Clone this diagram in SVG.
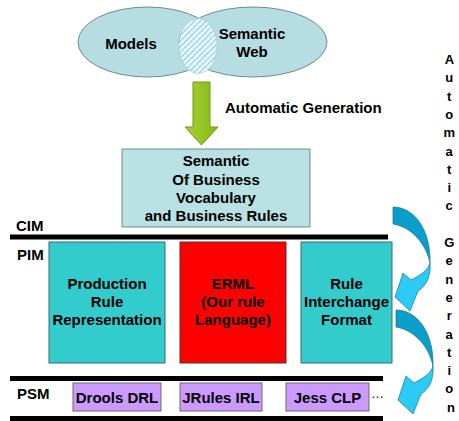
<svg xmlns="http://www.w3.org/2000/svg" width="459" height="421" viewBox="0 0 459 421">
<defs>
<style>
text{font-family:"Liberation Sans",Arial,sans-serif;font-weight:bold;fill:#000}
.t15{font-size:15px}
.c{text-anchor:middle}
.ell{fill:#b6dde1;stroke:#6f8c8e;stroke-width:1}
.teal{fill:#33cccc;stroke:#3d6b6b;stroke-width:1}
.purple{fill:#cc99ff;stroke:#6b6b6b;stroke-width:1}
.bar{stroke:#000;stroke-width:5}
.dark{fill:#0a9fcb;stroke:#1a6f90;stroke-width:0.7}
.light{fill:#2ccbf5;stroke:#1a6f90;stroke-width:0.7}
.vt{font-size:13px;text-anchor:middle}
</style>
<pattern id="hatch" width="4" height="4" patternUnits="userSpaceOnUse" patternTransform="rotate(45)">
<rect width="4" height="4" fill="#ffffff"/>
<line x1="0" y1="0" x2="0" y2="4" stroke="#45bdea" stroke-width="1.6"/>
<line x1="0" y1="2" x2="4" y2="2" stroke="#9fdcf4" stroke-width="0.8"/>
</pattern>
<linearGradient id="green" x1="0" y1="0" x2="1" y2="0">
<stop offset="0" stop-color="#a6d132"/>
<stop offset="1" stop-color="#86b818"/>
</linearGradient>
<path id="carrow-dark" d="M0,0 C22,0 38,24 37,56 C33,36 18,20 0,17 Z"/>
<path id="carrow-light" d="M37,56 C38,70 33,79 25,84 L17,104 L2,90 L10,66 L18,73 C28,68 35,63 37,56 Z"/>
</defs>
<rect width="459" height="421" fill="#ffffff"/>

<g id="venn">
<ellipse class="ell" cx="147.5" cy="42" rx="69.5" ry="35"/>
<ellipse class="ell" cx="253" cy="42" rx="74" ry="35"/>
<ellipse cx="198" cy="46" rx="19" ry="27.5" fill="url(#hatch)" stroke="#a9cfd6" stroke-width="0.8"/>
<text class="t15 c" x="131" y="49">Models</text>
<text class="t15 c" x="252" y="39">Semantic</text>
<text class="t15 c" x="252" y="57">Web</text>
</g>

<g id="connectors">
<path d="M193,82 H210 V127 H218 L201.5,145 L185,127 H193 Z" fill="url(#green)" stroke="#6f9a10" stroke-width="1"/>
<text class="t15" x="225" y="113">Automatic Generation</text>
<g transform="translate(393,207)">
<use href="#carrow-dark" class="dark"/>
<use href="#carrow-light" class="light"/>
</g>
<g transform="translate(396,310)">
<use href="#carrow-dark" class="dark"/>
<use href="#carrow-light" class="light"/>
</g>
</g>

<g id="cim-box">
<rect x="122" y="149" width="188" height="78" fill="#b9e0e3" stroke="#6f8c8e" stroke-width="1"/>
<text class="t15 c" x="216" y="166">Semantic</text>
<text class="t15 c" x="216" y="185">Of Business</text>
<text class="t15 c" x="216" y="203">Vocabulary</text>
<text class="t15 c" x="216" y="221">and Business Rules</text>
</g>

<g id="levels">
<text class="t15" x="16" y="231">CIM</text>
<line class="bar" x1="10" y1="237" x2="388" y2="237"/>
<text class="t15" x="17" y="260">PIM</text>
<line class="bar" x1="10" y1="378.5" x2="383" y2="378.5"/>
<text class="t15" x="17" y="399">PSM</text>
<line class="bar" x1="10" y1="418.5" x2="383" y2="418.5"/>
</g>

<g id="production">
<rect class="teal" x="49" y="242" width="116" height="121"/>
<text class="t15 c" x="107" y="289">Production</text>
<text class="t15 c" x="107" y="307">Rule</text>
<text class="t15 c" x="107" y="325">Representation</text>
</g>
<g id="erml">
<rect x="180" y="242" width="106" height="121" fill="#ff0000" stroke="#5a3030" stroke-width="1"/>
<text class="t15 c" x="233" y="289">ERML</text>
<text class="t15 c" x="233" y="307">(Our rule</text>
<text class="t15 c" x="233" y="325">Language)</text>
</g>
<g id="rif">
<rect class="teal" x="301" y="242" width="91" height="121"/>
<text class="t15 c" x="346.5" y="289">Rule</text>
<text class="t15 c" x="346.5" y="307">Interchange</text>
<text class="t15 c" x="346.5" y="325">Format</text>
</g>

<g id="drools">
<rect class="purple" x="73" y="383" width="88" height="28"/>
<text class="t15 c" x="117" y="403">Drools DRL</text>
</g>
<g id="jrules">
<rect class="purple" x="180" y="383" width="82" height="28"/>
<text class="t15 c" x="221" y="403">JRules IRL</text>
</g>
<g id="jess">
<rect class="purple" x="286" y="383" width="83" height="28"/>
<text class="t15 c" x="327.5" y="403">Jess CLP</text>
</g>
<text style="font-size:13px;font-weight:normal" x="371" y="398">…</text>

<g id="side-label">
<text class="vt">
<tspan x="451" y="64">A</tspan>
<tspan x="451" y="82.3">u</tspan>
<tspan x="451" y="100.6">t</tspan>
<tspan x="451" y="118.9">o</tspan>
<tspan x="451" y="137.2">m</tspan>
<tspan x="451" y="155.5">a</tspan>
<tspan x="451" y="173.8">t</tspan>
<tspan x="451" y="192.1">i</tspan>
<tspan x="451" y="210.4">c</tspan>
<tspan x="451" y="247">G</tspan>
<tspan x="451" y="265.3">e</tspan>
<tspan x="451" y="283.6">n</tspan>
<tspan x="451" y="301.9">e</tspan>
<tspan x="451" y="320.2">r</tspan>
<tspan x="451" y="338.5">a</tspan>
<tspan x="451" y="356.8">t</tspan>
<tspan x="451" y="375.1">i</tspan>
<tspan x="451" y="393.4">o</tspan>
<tspan x="451" y="411.7">n</tspan>
</text>
</g>
</svg>
